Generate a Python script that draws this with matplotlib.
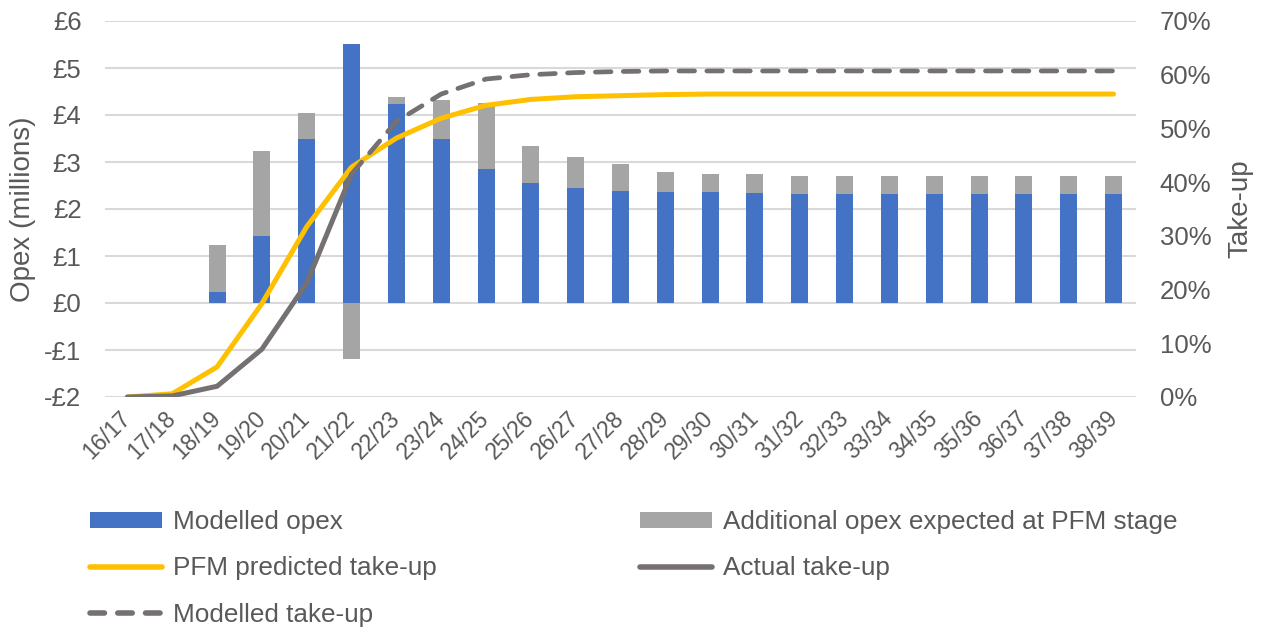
import numpy as np
import matplotlib
matplotlib.use("Agg")
import matplotlib.pyplot as plt
from matplotlib.lines import Line2D
from matplotlib.patches import Patch

plt.rcParams['font.family'] = ['Liberation Sans', 'DejaVu Sans']

years = ["16/17", "17/18", "18/19", "19/20", "20/21", "21/22", "22/23", "23/24",
         "24/25", "25/26", "26/27", "27/28", "28/29", "29/30", "30/31", "31/32",
         "32/33", "33/34", "34/35", "35/36", "36/37", "37/38", "38/39"]

# Opex, £ millions
modelled_opex = [0.0, 0.0, 0.23, 1.43, 3.49, 5.52, 4.23, 3.49, 2.86, 2.56, 2.44,
                 2.38, 2.36, 2.36, 2.33, 2.32, 2.32, 2.32, 2.32, 2.32, 2.32, 2.32, 2.32]
additional_opex = [0.0, 0.0, 1.00, 1.81, 0.56, -1.19, 0.15, 0.83, 1.39, 0.78, 0.66,
                   0.57, 0.43, 0.38, 0.41, 0.39, 0.39, 0.39, 0.39, 0.39, 0.39, 0.39, 0.39]

# Take-up, %
pfm_takeup = [0.0, 0.6, 5.6, 17.4, 31.7, 42.8, 48.2, 51.9, 54.3, 55.4, 55.9,
              56.1, 56.3, 56.4, 56.4, 56.4, 56.4, 56.4, 56.4, 56.4, 56.4, 56.4, 56.4]
actual_takeup = [0.0, 0.2, 2.0, 8.9, 21.2, 41.5]
modelled_takeup = [41.5, 51.3, 56.4, 59.2, 60.0, 60.4, 60.6, 60.7, 60.7, 60.7,
                   60.7, 60.7, 60.7, 60.7, 60.7, 60.7, 60.7, 60.7]

BLUE = "#4472C4"
GREY = "#A5A5A5"
YELLOW = "#FFC000"
DARK = "#767171"
TEXT = "#595959"
GRID = "#D9D9D9"

TICK_FS = 18.5
TITLE_FS = 20

fig = plt.figure(figsize=(12.61, 6.30), dpi=100)
ax = fig.add_axes([105 / 1261, 1 - 397 / 630, (1136 - 105) / 1261, (397 - 21) / 630])
ax2 = ax.twinx()

x = np.arange(len(years))
mod = np.array(modelled_opex)
add = np.array(additional_opex)
bottom = np.where(add >= 0, mod, 0.0)

ax.bar(x, mod, width=0.38, color=BLUE, zorder=2)
ax.bar(x, add, width=0.38, bottom=bottom, color=GREY, zorder=2)

ax.set_ylim(-2, 6)
ax.set_xlim(-0.5, len(years) - 0.5)
ax.set_yticks(range(-2, 7))
ax.set_yticklabels([f"-£{-v}" if v < 0 else f"£{v}" for v in range(-2, 7)])
ax.grid(axis='y', color=GRID, linewidth=1.5, zorder=0)
ax.set_axisbelow(True)
ax.set_xticks(x)
ax.set_xticklabels(years, rotation=45, ha='right', va='center', rotation_mode='anchor')
ax.tick_params(axis='x', length=0, pad=13, labelsize=16.5, labelcolor=TEXT)
ax.tick_params(axis='y', length=0, pad=17, labelsize=TICK_FS, labelcolor=TEXT)
ax.set_ylabel("Opex (millions)", fontsize=TITLE_FS, color=TEXT)
ax.yaxis.set_label_coords((36 - 105) / 1031, 0.5)
for s in ax.spines.values():
    s.set_visible(False)

ax2.plot(x, pfm_takeup, color=YELLOW, linewidth=3.6, solid_capstyle='round', zorder=3)
ax2.plot(x[:len(actual_takeup)], actual_takeup, color=DARK, linewidth=3.6,
         solid_capstyle='round', zorder=4)
ax2.plot(x[5:5 + len(modelled_takeup)], modelled_takeup, color=DARK, linewidth=3.4,
         linestyle=(0, (3.3, 2.6)), dash_capstyle='round', zorder=4)
ax2.set_ylim(0, 70)
ax2.set_yticks(range(0, 71, 10))
ax2.set_yticklabels([f"{v}%" for v in range(0, 71, 10)])
ax2.tick_params(axis='y', length=0, pad=17, labelsize=TICK_FS, labelcolor=TEXT)
ax2.set_ylabel("Take-up", fontsize=TITLE_FS, color=TEXT)
ax2.yaxis.set_label_coords((1227 - 105) / 1031, 0.5)
for s in ax2.spines.values():
    s.set_visible(False)

handles = [
    Patch(facecolor=BLUE, edgecolor='none'),
    Line2D([], [], color=YELLOW, linewidth=4, solid_capstyle='round'),
    Line2D([], [], color=DARK, linewidth=4, linestyle=(0, (2.6, 2.4)), dash_capstyle='round'),
    Patch(facecolor=GREY, edgecolor='none'),
    Line2D([], [], color=DARK, linewidth=4, solid_capstyle='round'),
]
labels = ["Modelled opex", "PFM predicted take-up", "Modelled take-up",
          "Additional opex expected at PFM stage", "Actual take-up"]
leg = fig.legend(handles, labels, ncol=2, loc='upper left',
                 bbox_to_anchor=(90 / 1261, 1 - 510 / 630), frameon=False,
                 fontsize=18.8, handlelength=2.76, handleheight=0.6, handletextpad=0.4,
                 labelspacing=0.86, columnspacing=7.81, borderpad=0, borderaxespad=0)
for t in leg.get_texts():
    t.set_color(TEXT)

fig.savefig("out.png", dpi=100)
